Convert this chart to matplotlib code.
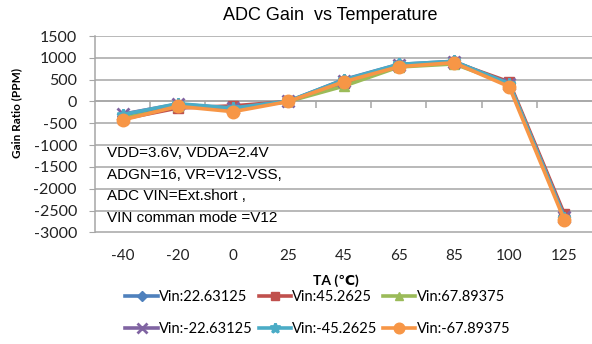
import matplotlib
matplotlib.use("Agg")
import matplotlib.pyplot as plt
import matplotlib.transforms as mtransforms

# Temperature points (categories) and gain ratio in PPM for each input voltage
temps = ["-40", "-20", "0", "25", "45", "65", "85", "100", "125"]

vin_p22 = [-330, -80, -150, 0, 500, 850, 920, 400, -2620]
vin_p45 = [-400, -150, -100, 0, 420, 820, 900, 450, -2580]
vin_p67 = [-380, -110, -170, 0, 350, 790, 860, 400, -2650]
vin_n22 = [-290, -60, -160, 0, 480, 830, 910, 390, -2640]
vin_n45 = [-300, -50, -150, 10, 490, 850, 920, 410, -2660]
vin_n67 = [-424, -110, -233, 0, 450, 797, 889, 340, -2715]

series_labels = ["Vin:22.63125", "Vin:45.2625", "Vin:67.89375",
                 "Vin:-22.63125", "Vin:-45.2625", "Vin:-67.89375"]

yticks = [1500, 1000, 500, 0, -500, -1000, -1500, -2000, -2500, -3000]

notes = ["VDD=3.6V, VDDA=2.4V",
         "ADGN=16, VR=V12-VSS,",
         "ADC VIN=Ext.short ,",
         "VIN comman mode =V12"]

colors = ["#4F81BD", "#C0504D", "#9BBB59", "#8064A2", "#4BACC6", "#F79646"]
markers = ["D", "s", "^", "x", "*", "o"]
msizes = [6, 7, 7, 8, 9, 9]

tick_font = ["Lato", "DejaVu Sans"]
text_font = ["Liberation Sans", "DejaVu Sans"]

W, H = 592, 344
fig = plt.figure(figsize=(W / 100, H / 100), dpi=100)
ax = fig.add_axes([95 / W, 1 - 232.5 / H, (592 - 95) / W, (232.5 - 36) / H])

x = list(range(len(temps)))
all_series = [vin_p22, vin_p45, vin_p67, vin_n22, vin_n45, vin_n67]
handles = []
for vals, lab, c, m, ms in zip(all_series, series_labels, colors, markers, msizes):
    mew = 2 if m in ("x", "*") else 1
    h, = ax.plot(x, vals, color=c, lw=2.6, marker=m, markersize=ms,
                 markerfacecolor=c, markeredgecolor=c, markeredgewidth=mew,
                 label=lab, zorder=3, clip_on=False)
    handles.append(h)

ax.set_xlim(-0.5, len(temps) - 0.5)
ax.set_ylim(-3000, 1500)
ax.set_yticks(yticks)
ax.set_yticklabels([str(v) for v in yticks], fontfamily=tick_font, fontsize=11.5)
ax.yaxis.grid(True, color="#A6A6A6", lw=1.1)
ax.set_axisbelow(True)

for s in ("top", "right"):
    ax.spines[s].set_visible(False)
ax.spines["left"].set_color("#A6A6A6")
ax.spines["left"].set_linewidth(1.1)
ax.spines["bottom"].set_position(("data", 0))
ax.spines["bottom"].set_color("#A6A6A6")
ax.spines["bottom"].set_linewidth(1.1)
ax.tick_params(axis="y", length=4, color="#A6A6A6", pad=9, labelcolor="#222222")
ax.set_xticks([i + 0.5 for i in range(len(temps) - 1)])
ax.set_xticklabels([])
ax.tick_params(axis="x", length=5, direction="out", color="#A6A6A6", width=1.1)

# Category labels sit below the plot area
trans = mtransforms.blended_transform_factory(ax.transData, ax.transAxes)
for i, t in enumerate(temps):
    ax.text(i, -0.12, t, transform=trans, ha="center", va="center",
            fontfamily=tick_font, fontsize=11, color="#222222")

fig.text(330 / W, 1 - 15 / H, "ADC Gain  vs Temperature", ha="center", va="center",
         fontfamily=text_font, fontsize=13)
fig.text(17 / W, 1 - 113 / H, "Gain Ratio (PPM)", rotation=90, ha="center", va="center",
         fontfamily=tick_font, fontsize=8.5, fontweight="bold")
fig.text(336 / W, 1 - 281 / H, "TA (℃)", ha="center", va="center",
         fontfamily=tick_font, fontsize=10, fontweight="bold")

for k, line in enumerate(notes):
    fig.text(107 / W, 1 - (153 + 21.7 * k) / H, line, ha="left", va="center",
             fontfamily=text_font, fontsize=11)

order = [0, 3, 1, 4, 2, 5]
leg = fig.legend([handles[i] for i in order], [series_labels[i] for i in order],
                 ncol=3, loc="center", bbox_to_anchor=(318 / W, 1 - 313 / H),
                 frameon=False, handlelength=2.2, handletextpad=0.1,
                 columnspacing=0.4, labelspacing=1.2, markerscale=0.85,
                 prop={"family": tick_font, "size": 10.5})

fig.savefig("out.png", dpi=100)
